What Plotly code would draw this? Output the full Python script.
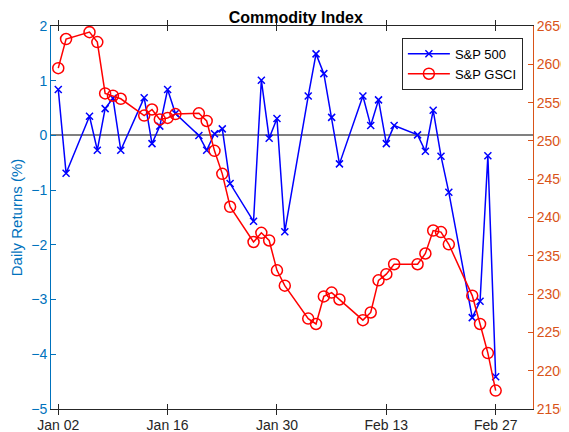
import plotly.graph_objects as go

# trading days shown on the chart (2014)
dates = ["2014-01-02", "2014-01-03", "2014-01-06", "2014-01-07", "2014-01-08", "2014-01-09",
         "2014-01-10", "2014-01-13", "2014-01-14", "2014-01-15", "2014-01-16", "2014-01-17",
         "2014-01-20", "2014-01-21", "2014-01-22", "2014-01-23", "2014-01-24", "2014-01-27",
         "2014-01-28", "2014-01-29", "2014-01-30", "2014-01-31", "2014-02-03", "2014-02-04",
         "2014-02-05", "2014-02-06", "2014-02-07", "2014-02-10", "2014-02-11", "2014-02-12",
         "2014-02-13", "2014-02-14", "2014-02-17", "2014-02-18", "2014-02-19", "2014-02-20",
         "2014-02-21", "2014-02-24", "2014-02-25", "2014-02-26", "2014-02-27"]

# S&P 500 daily returns (%)
sp500 = [0.84, -0.69, 0.35, -0.27, 0.49, 0.68, -0.27, 0.69, -0.15, 0.17, 0.84, 0.40,
         0.00, -0.27, 0.03, 0.12, -0.88, -1.57, 1.01, -0.05, 0.31, -1.76, 0.72, 1.49,
         1.13, 0.33, -0.52, 0.72, 0.18, 0.65, -0.15, 0.18, 0.01, -0.29, 0.46, -0.38,
         -1.04, -3.33, -3.03, -0.37, -4.41]

# S&P GSCI level
gsci = [2595, 2633, 2642, 2629, 2562, 2559, 2555, 2533, 2541, 2528, 2530, 2535,
        2536, 2526, 2487, 2457, 2414, 2368, 2380, 2370, 2331, 2311, 2268, 2261,
        2297, 2302, 2293, 2266, 2276, 2318, 2326, 2339, 2339, 2353, 2383, 2381,
        2365, 2298, 2261, 2223, 2174]

x_ticks = ["2014-01-02", "2014-01-16", "2014-01-30", "2014-02-13", "2014-02-27"]
x_labels = ["Jan 02", "Jan 16", "Jan 30", "Feb 13", "Feb 27"]
left_ticks = [-5, -4, -3, -2, -1, 0, 1, 2]
right_ticks = [2150, 2200, 2250, 2300, 2350, 2400, 2450, 2500, 2550, 2600, 2650]

LEFT_C = "#0072BD"
RIGHT_C = "#D95319"
AX_C = "#262626"
FONT = "Liberation Sans, Arial, sans-serif"

fig = go.Figure()

fig.add_trace(go.Scatter(
    x=dates, y=sp500, name="S&P 500", mode="lines+markers",
    line=dict(color="#0000FF", width=1.5),
    marker=dict(symbol="x-thin-open", size=7, line=dict(color="#0000FF", width=1.5))))

fig.add_trace(go.Scatter(
    x=dates, y=gsci, name="S&P GSCI", mode="lines+markers", yaxis="y2",
    line=dict(color="#FF0000", width=1.5),
    marker=dict(symbol="circle-open", size=11, color="#FF0000",
                line=dict(color="#FF0000", width=1.5))))

# page body has an 8px margin, so the figure is 8px smaller than the window
fig.update_layout(
    width=561, height=424,
    margin=dict(l=43, r=36, t=18, b=23, autoexpand=False),
    paper_bgcolor="white", plot_bgcolor="white",
    font=dict(family=FONT, size=14, color=AX_C),
    title=dict(text="<b>Commodity Index</b>", x=0.513, xanchor="center",
               y=0.977, yanchor="middle", font=dict(size=16, color="#000000"),
               automargin=False),
    xaxis=dict(
        type="date", range=["2014-01-01 01:40", "2014-03-03 18:40"],
        tickvals=x_ticks, ticktext=x_labels, automargin=False,
        ticks="inside", ticklen=5, tickcolor=AX_C, tickwidth=1,
        showline=True, linecolor=AX_C, linewidth=1, mirror="allticks",
        showgrid=False, zeroline=False, ticklabelstandoff=3,
        tickfont=dict(size=14, color=AX_C)),
    yaxis=dict(
        range=[-5, 2], tickvals=left_ticks, automargin=False,
        ticks="inside", ticklen=5, tickcolor=LEFT_C,
        showline=True, linecolor=LEFT_C, linewidth=1,
        showgrid=False, zeroline=True, zerolinecolor="#808080", zerolinewidth=1.5,
        tickfont=dict(size=14, color=LEFT_C),
        title=dict(text="Daily Returns (%)", font=dict(size=15, color=LEFT_C), standoff=10)),
    yaxis2=dict(
        range=[2150, 2650], tickvals=right_ticks, overlaying="y", side="right",
        automargin=False,
        ticks="inside", ticklen=5, tickcolor=RIGHT_C,
        showline=True, linecolor=RIGHT_C, linewidth=1,
        showgrid=False, zeroline=False,
        tickfont=dict(size=14, color=RIGHT_C)),
    legend=dict(
        x=0.979, y=0.969, xanchor="right", yanchor="top",
        bgcolor="white", bordercolor=AX_C, borderwidth=1,
        font=dict(size=13, color="#000000"),
        itemwidth=42, tracegroupgap=0),
    showlegend=True,
)

fig.write_html("out.html")
